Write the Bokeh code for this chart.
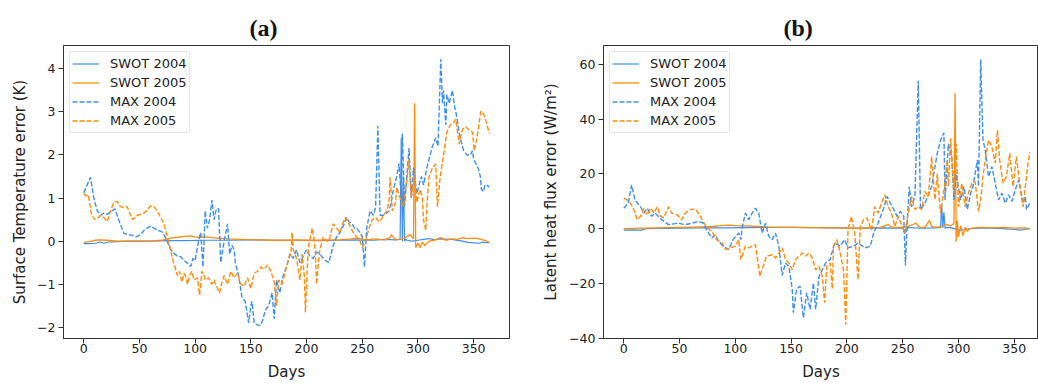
from bokeh.plotting import figure
from bokeh.layouts import row
from bokeh.models import Legend, LegendItem, CustomJSTickFormatter, FixedTicker, Range1d
from bokeh.embed import file_html
from bokeh.resources import INLINE

# ---------------- data: panel (a) surface temperature error (K) ----------------
a_swot04_days = [0, 5, 10, 15, 18, 22, 30, 40, 60, 75, 90, 110, 130, 150, 170, 190, 210, 230, 245, 250,
                 255, 260, 270, 280, 284, 285, 286, 287, 288, 289, 290, 295, 300, 305, 310, 315, 320, 330,
                 340, 345, 350, 355, 358, 360, 364]
a_swot04_vals = [-0.06, -0.06, -0.05, -0.02, -0.05, -0.02, -0.01, 0.0, 0.0, 0.01, 0.01, 0.02, 0.02, 0.03,
                 0.02, 0.02, 0.01, 0.02, 0.03, 0.02, 0.03, 0.02, 0.04, 0.03, 0.05, 2.4, 0.0, 1.5, 0.0, 0.05,
                 0.02, 0.0, 0.02, 0.04, 0.06, 0.03, 0.05, 0.04, 0.0, -0.03, -0.04, -0.05, -0.02, -0.03, -0.04]

a_swot05_days = [0, 5, 10, 15, 20, 30, 40, 50, 60, 70, 75, 80, 85, 90, 95, 100, 105, 110, 115, 120, 130,
                 140, 150, 160, 170, 180, 190, 200, 210, 220, 230, 240, 245, 250, 255, 260, 265, 270, 275,
                 276, 280, 285, 290, 293, 296, 297, 298, 300, 302, 304, 306, 310, 315, 320, 325, 330, 335,
                 340, 345, 350, 355, 360, 364]
a_swot05_vals = [-0.03, -0.01, 0.02, 0.03, 0.02, 0.0, 0.0, 0.0, 0.0, 0.02, 0.05, 0.08, 0.09, 0.11, 0.12,
                 0.1, 0.09, 0.1, 0.08, 0.07, 0.05, 0.04, 0.03, 0.03, 0.02, 0.02, 0.03, 0.02, 0.02, 0.03,
                 0.03, 0.05, 0.07, 0.04, 0.03, 0.05, 0.04, 0.03, 0.08, 0.15, 0.03, 0.04, 0.1, 0.15, 0.05,
                 3.2, -0.15, -0.05, -0.15, -0.02, -0.1, 0.0, 0.02, 0.08, 0.02, 0.05, 0.04, 0.08, 0.06,
                 0.07, 0.05, 0.02, -0.03]

a_max04_days = [0, 3, 6, 9, 12, 15, 18, 21, 25, 28, 32, 36, 40, 43, 47, 51, 54, 57, 60, 63, 66, 70, 73,
                75, 78, 81, 84, 87, 90, 93, 96, 98, 100, 103, 105, 107, 109, 111, 113, 115, 117, 119, 121,
                123, 126, 129, 131, 133, 135, 136, 139, 142, 145, 148, 150, 151, 153, 156, 159, 161, 163,
                166, 169, 171, 173, 176, 179, 182, 185, 188, 191, 194, 197, 200, 203, 206, 209, 212, 215,
                217, 220, 222, 224, 227, 230, 233, 236, 238, 241, 243, 245, 248, 250, 252, 254, 257, 260,
                262, 264, 266, 269, 272, 274, 276, 278, 281, 283, 285, 286, 288, 290, 292, 294, 296, 299,
                301, 303, 305, 308, 311, 313, 316, 318, 320.5, 322, 323, 325, 326, 328, 329, 331, 333, 334,
                336, 337, 339, 341, 344, 347, 349, 350, 352, 354, 356, 357, 359, 360, 362, 364]
a_max04_vals = [1.12, 1.3, 1.48, 1.0, 0.71, 0.6, 0.65, 0.62, 0.7, 0.75, 0.45, 0.18, 0.15, 0.14, 0.1, 0.15,
                0.25, 0.3, 0.35, 0.3, 0.25, 0.22, 0.1, -0.01, -0.2, -0.28, -0.35, -0.36, -0.45, -0.51,
                -0.59, -0.4, -0.45, 0.0, 0.2, -0.6, 0.7, 0.3, 0.5, 0.95, 0.5, 0.75, 0.75, -0.5, 0.0, 0.4,
                -0.3, -0.1, -0.2, -0.5, -0.8, -1.3, -1.4, -1.9, -1.5, -1.4, -1.9, -1.95, -1.95, -1.8, -1.6,
                -1.5, -1.2, -1.8, -0.9, -1.2, -0.8, -0.6, -0.3, -0.4, -0.2, -0.5, -0.35, -0.2, -0.35, -0.4,
                -0.25, -0.3, -0.4, -0.45, -0.5, -0.3, -0.1, 0.1, 0.2, 0.35, 0.55, 0.45, 0.4, 0.3, 0.3, 0.2,
                0.1, -0.6, 0.3, 0.7, 0.6, 0.8, 2.67, 0.6, 0.6, 0.65, 0.7, 0.9, 1.2, 1.5, 1.8, 1.0, 2.5, 0.8,
                1.5, 2.16, 1.0, 1.7, 1.1, 1.3, 1.5, 1.3, 1.7, 2.0, 2.2, 2.4, 2.2, 4.22, 3.2, 3.5, 2.7, 3.4,
                3.2, 3.3, 3.5, 3.1, 3.0, 2.7, 2.5, 2.3, 2.1, 2.0, 2.0, 2.1, 1.9, 1.8, 1.7, 1.5, 1.2, 1.15,
                1.3, 1.3, 1.25]

a_max05_days = [0, 2, 4, 7, 10, 13, 15, 18, 21, 24, 27, 30, 33, 36, 39, 42, 44, 48, 51, 54, 57, 60, 63,
                66, 69, 72, 75, 78, 80, 82, 84, 86, 88, 90, 92, 93, 95, 97, 99, 102, 104, 106, 108, 109,
                112, 115, 117, 120, 122, 123, 126, 128, 129, 132, 135, 138, 141, 144, 147, 150, 153, 156,
                159, 162, 165, 168, 171, 173, 175, 178, 181, 184, 186, 187, 188, 191, 194, 196, 198, 199,
                201, 202, 205, 207, 208, 209, 211, 212, 215, 218, 220, 222, 224, 227, 230, 233, 235, 238,
                240, 242, 245, 248, 250, 253, 256, 259, 262, 265, 267, 269, 272, 274, 275, 277, 280, 281,
                284, 287, 290, 292, 294, 297, 299, 302, 304, 305, 307, 308, 310, 313, 316, 317.5, 320, 323,
                326, 329, 332, 334, 337, 340, 343, 347, 349, 350.5, 353, 356.5, 359, 362, 364]
a_max05_vals = [1.1, 1.05, 1.08, 0.6, 0.5, 0.55, 0.6, 0.55, 0.45, 0.7, 0.9, 0.92, 0.8, 0.78, 0.8, 0.6,
                0.5, 0.6, 0.62, 0.65, 0.72, 0.82, 0.8, 0.7, 0.55, 0.4, 0.1, -0.2, -0.45, -0.6, -0.8, -0.7,
                -0.95, -0.75, -0.85, -1.0, -0.8, -0.7, -0.9, -0.85, -1.25, -0.7, -0.8, -0.9, -0.85, -1.0,
                -0.9, -1.1, -1.2, -1.05, -0.8, -0.95, -1.0, -0.7, -0.85, -0.75, -1.0, -1.05, -0.85, -1.1,
                -0.75, -0.7, -0.6, -0.65, -0.55, -0.7, -0.95, -1.5, -0.9, -1.0, -0.7, -0.4, -0.3, 0.2, -0.2,
                -0.4, -0.9, -0.3, -0.8, -1.65, -0.4, -0.1, 0.3, 0.0, -0.3, -1.0, -0.4, -0.2, 0.1, 0.0, 0.0,
                0.2, 0.4, 0.3, 0.2, 0.45, 0.55, 0.4, 0.3, 0.2, 0.1, 0.0, -0.15, 0.0, 0.3, 0.5, 0.55, 0.45,
                0.5, 0.6, 0.7, 0.9, 1.48, 0.7, 0.9, 1.25, 1.0, 0.8, 1.4, 1.9, 1.0, 1.5, 0.9, 1.2, 1.0, 0.5,
                0.25, 0.8, 1.5, 1.7, 1.79, 0.8, 1.5, 2.0, 2.53, 2.7, 2.75, 2.83, 2.25, 2.6, 2.65, 2.55,
                2.53, 2.1, 2.4, 3.02, 2.95, 2.7, 2.5]

# ---------------- data: panel (b) latent heat flux error (W/m2) ----------------
b_swot04_days = [0, 10, 15, 20, 30, 50, 70, 90, 110, 130, 150, 170, 190, 210, 230, 250, 252, 255, 260,
                 270, 280, 284, 285, 286, 287, 288, 290, 295, 300, 305, 310, 320, 330, 340, 350, 355, 360,
                 364]
b_swot04_vals = [-0.5, -0.4, -0.6, 0.0, 0.1, 0.2, 0.3, 0.3, 0.4, 0.5, 0.5, 0.4, 0.3, 0.2, 0.3, 0.2, -1.5,
                 0.5, 0.3, 0.2, 0.3, 0.5, 9.0, 0.3, 6.0, 0.2, 0.5, 0.2, -0.5, -0.3, 0.0, 0.3, 0.2, 0.0,
                 -0.3, -0.5, -0.3, 0.0]

b_swot05_days = [0, 10, 20, 30, 40, 50, 60, 70, 80, 85, 90, 95, 100, 105, 110, 120, 130, 150, 170, 190,
                 200, 210, 220, 230, 237, 240, 250, 255, 262, 265, 270, 274, 276, 280, 285, 290, 293, 296,
                 297, 298, 299, 300, 302, 304, 306, 308, 310, 315, 320, 330, 340, 350, 360, 364]
b_swot05_vals = [0.0, 0.1, 0.2, 0.3, 0.4, 0.5, 0.6, 0.7, 0.8, 1.0, 1.2, 1.3, 1.1, 1.0, 1.0, 0.8, 0.6, 0.5,
                 0.4, 0.3, 0.2, 0.1, 0.3, 0.5, 1.5, 0.6, 0.4, 0.8, 2.0, 0.6, 0.5, 3.0, 0.8, 0.5, 0.8, 1.5,
                 1.0, 2.0, 49.5, -4.8, 3.0, -3.0, 1.0, -2.5, 0.5, -1.0, 0.0, 0.3, 0.5, 0.3, 0.5, 0.2, 0.3,
                 0.0]

b_max04_days = [0, 4, 7, 10, 15, 18, 21, 25, 28, 34, 40, 49, 55, 61, 67, 71, 76, 79, 82, 85, 89, 94, 98,
                103, 105, 106, 109, 112, 115, 118, 121, 124, 127, 130, 133, 136, 139, 142, 145, 148, 151,
                152, 155, 158, 161, 164, 167, 170, 172, 175, 178, 181, 185, 189, 194, 198, 201, 206, 210,
                216, 221, 224, 228, 233, 236, 239, 242, 245, 248, 251, 252.5, 254, 256, 258, 261, 264, 266,
                270, 276, 281, 284, 287, 288, 291, 294, 296, 298, 302, 305, 308, 311, 313, 317, 318, 320,
                322, 324, 327, 330, 333, 336, 339, 342, 345, 348, 351, 354, 356, 358, 360, 361, 364]
b_max04_vals = [7.5, 9.3, 16.0, 10.5, 8.0, 5.7, 7.5, 4.5, 5.7, 3.3, 1.5, 2.0, 1.5, 2.0, 2.7, 2.0, -1.6,
                -3.4, -2.2, -4.6, -6.4, -7.6, -4.0, -1.6, -4.0, 0.0, 5.7, 3.3, 5.7, 7.5, 5.7, -1.6, 2.0,
                -2.8, -4.0, -1.6, -6.4, -17.0, -12.5, -13.7, -22.0, -30.7, -22.0, -21.0, -32.5, -23.4,
                -29.5, -19.8, -29.5, -17.4, -15.0, -12.5, -11.3, -5.2, -6.4, -4.0, -7.0, -6.4, -5.2, -7.0,
                -6.4, -1.6, 2.0, 7.5, 11.8, 9.3, 7.0, 4.5, 6.3, 4.5, -13.4, 2.0, 15.4, 8.0, 11.8, 54.0,
                7.0, 9.3, 15.4, 27.5, 32.4, 35.0, 10.5, 31.0, 26.3, 10.5, 20.0, 10.5, 15.4, 7.0, 13.0, 15.4,
                25.0, 15.4, 61.8, 32.4, 28.8, 19.0, 22.7, 16.6, 10.5, 13.0, 9.3, 12.4, 10.0, 14.2, 17.8,
                13.6, 9.3, 11.8, 7.0, 9.3]

b_max05_days = [0, 3, 6, 9, 12, 15, 18, 21, 24, 27, 30, 33, 36, 40, 43, 48, 52, 55, 60, 64, 68, 71, 74,
                77, 80, 83, 88, 91, 95, 100, 103, 105, 109, 112, 115, 118, 119, 122, 125, 128, 133, 136,
                139, 142, 145, 148, 151, 154, 157, 160, 163, 166, 169, 172, 175, 178, 180, 182, 185, 187,
                188, 191, 194, 197, 199, 201, 204, 207, 210, 212, 215, 218, 222, 225, 228, 231, 234, 237,
                240, 243, 246, 249, 252, 255, 258, 261, 264, 267, 270, 273, 276, 279, 281, 284, 287, 290,
                291, 293, 296, 298, 300, 303, 306, 309, 312, 315, 318, 320, 322, 324, 327, 330, 333, 335,
                337, 340, 343, 346, 349, 352, 356, 358, 360, 362, 364]
b_max05_vals = [11.2, 10.5, 9.3, 7.0, 3.3, 4.5, 7.5, 5.0, 7.5, 5.7, 8.0, 4.5, 4.0, 8.0, 5.7, 5.0, 3.3,
                5.7, 7.0, 7.2, 5.0, 2.7, 0.8, -0.4, -1.6, -4.0, -5.2, -7.6, -7.0, -6.4, -4.0, -11.3, -6.4,
                -7.0, -6.4, -5.8, -8.9, -17.4, -13.7, -10.0, -9.5, -10.7, -8.9, -7.0, -11.3, -12.5, -15.0,
                -11.3, -10.0, -8.9, -10.0, -8.9, -10.7, -15.0, -13.7, -17.4, -27.0, -13.7, -12.5, -22.0,
                -6.4, -4.0, -8.9, -15.0, -35.0, -0.4, 4.5, -1.6, -18.6, 0.8, 3.3, 4.0, -0.4, 8.0, 5.7, 9.3,
                12.4, 8.0, 5.7, 0.8, 4.5, 1.5, -1.6, 5.7, 11.8, 7.0, 8.0, 7.0, 13.6, 11.8, 26.3, 10.5, 20.0,
                5.7, 14.0, 25.0, 15.4, 33.0, 13.0, 31.0, 8.0, 16.6, 8.0, 13.0, 16.6, 17.2, 6.3, 10.5, 19.0,
                25.0, 32.4, 30.0, 24.0, 36.0, 25.0, 16.6, 19.0, 27.5, 15.4, 26.3, 13.0, 8.0, 15.4, 22.7,
                28.0]

x_ticks = [0, 50, 100, 150, 200, 250, 300, 350]
a_y_ticks = [-2, -1, 0, 1, 2, 3, 4]
b_y_ticks = [-40, -20, 0, 20, 40, 60]
labels = ["SWOT 2004", "SWOT 2005", "MAX 2004", "MAX 2005"]

BLUE = "#3d8ff0"
ORANGE = "#ff8c0a"
AXC = "#333333"
FONT = "DejaVu Sans"

minus_fmt = "return (tick < 0 ? '\u2212' : '') + Math.abs(tick).toString();"


def panel(title, ylabel, series, yr, yticks, width, bl, br, xend, ylab_standoff, title_off):
    p = figure(width=width, height=383, output_backend="svg", toolbar_location=None,
               x_range=Range1d(-18.2, xend), y_range=Range1d(*yr),
               min_border_left=bl, min_border_right=br, min_border_top=45, min_border_bottom=44)
    p.grid.visible = False
    p.outline_line_color = AXC
    p.outline_line_width = 1
    p.title.text = title
    p.title.text_font = "Liberation Serif"
    p.title.text_font_style = "bold"
    p.title.text_font_size = "24px"
    p.title.text_color = "#111111"
    p.title.align = "left"
    p.title.offset = title_off
    p.title.standoff = 10
    for ax in (p.xaxis[0], p.yaxis[0]):
        ax.axis_line_color = AXC
        ax.major_tick_line_color = AXC
        ax.major_tick_out = 5
        ax.major_tick_in = 0
        ax.minor_tick_line_color = None
        ax.major_label_text_font = FONT
        ax.major_label_text_font_size = "12.5px"
        ax.major_label_text_color = "#222222"
        ax.axis_label_text_font = FONT
        ax.axis_label_text_font_size = "15px"
        ax.axis_label_text_font_style = "normal"
        ax.axis_label_text_color = "#222222"
    p.xaxis.ticker = FixedTicker(ticks=x_ticks)
    p.yaxis.ticker = FixedTicker(ticks=yticks)
    p.yaxis.formatter = CustomJSTickFormatter(code=minus_fmt)
    p.xaxis.axis_label = "Days"
    p.yaxis.axis_label = ylabel
    p.xaxis.major_label_standoff = 0
    p.xaxis.axis_label_standoff = 7
    p.yaxis.major_label_standoff = 3
    p.yaxis.axis_label_standoff = ylab_standoff

    styles = [(BLUE, "solid", 1.2), (ORANGE, "solid", 1.3), (BLUE, "5 2", 1.4), (ORANGE, "5 2", 1.4)]
    items = []
    for (xs, ys), (c, dash, lw), lab in zip(series, styles, labels):
        r = p.line(xs, ys, line_color=c, line_dash=dash, line_width=lw)
        items.append(LegendItem(label=lab, renderers=[r]))
    leg = Legend(items=items, location="top_left")
    leg.margin = 6
    leg.padding = 2
    leg.spacing = 0
    leg.glyph_width = 27
    leg.glyph_height = 19
    leg.label_height = 19
    leg.label_standoff = 11
    leg.label_text_font = FONT
    leg.label_text_font_size = "13px"
    leg.label_text_color = "#222222"
    leg.border_line_color = "#cccccc"
    leg.border_line_width = 1
    leg.border_radius = 3
    leg.background_fill_color = "white"
    leg.background_fill_alpha = 0.85
    p.add_layout(leg)
    return p


pa = panel("(a)", "Surface Temperature error (K)",
           [(a_swot04_days, a_swot04_vals), (a_swot05_days, a_swot05_vals),
            (a_max04_days, a_max04_vals), (a_max05_days, a_max05_vals)],
           (-2.26, 4.54), a_y_ticks, 538, 63, 29, 382.2, 5, 186)
pb = panel("(b)", "Latent heat flux error (W/m\u00b2)",
           [(b_swot04_days, b_swot04_vals), (b_swot05_days, b_swot05_vals),
            (b_max04_days, b_max04_vals), (b_max05_days, b_max05_vals)],
           (-40.1, 66.9), b_y_ticks, 500, 65, 0, 371.8, 6, 180)

layout = row(pa, pb)
open("out.html", "w").write(file_html(layout, INLINE))
